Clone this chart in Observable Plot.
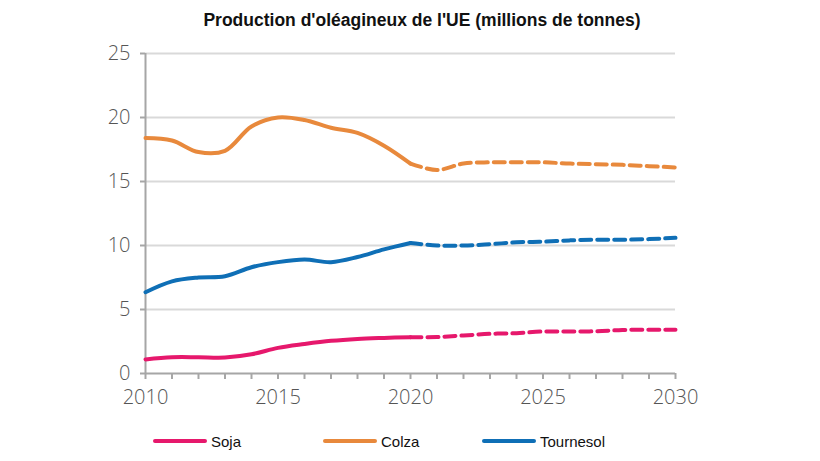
<!DOCTYPE html>
<html>
<head>
<meta charset="utf-8">
<script src="https://cdn.jsdelivr.net/npm/d3@7"></script>
<script src="https://cdn.jsdelivr.net/npm/@observablehq/plot@0.6"></script>
<style>
  html, body { margin: 0; padding: 0; background: #fff; }
  #wrap { position: relative; width: 820px; height: 461px; overflow: hidden; }
  #title { position: absolute; left: 0; top: 10px; width: 844px; text-align: center;
           font-family: "Liberation Sans", Arial, sans-serif; font-weight: bold; font-size: 17.5px; color: #111; }
  #chart { position: absolute; left: 0; top: 40px; }
  #legend { position: absolute; left: 0; top: 430px; width: 820px; height: 24px;
            font-family: "Liberation Sans", Arial, sans-serif; font-size: 15px; color: #111; }
  .item { position: absolute; top: 0; display: flex; align-items: center; height: 22px; }
  .sw { display: inline-block; width: 54px; height: 4px; border-radius: 2px; margin-right: 4px; }
</style>
</head>
<body>
<div id="wrap">
  <div id="title">Production d'oléagineux de l'UE (millions de tonnes)</div>
  <div id="chart"></div>
  <div id="legend"></div>
</div>
<script>
const years = d3.range(2010, 2031);
const soja      = [1.1, 1.27, 1.27, 1.25, 1.5, 2.0, 2.3, 2.55, 2.7, 2.78, 2.84, 2.85, 2.97, 3.1, 3.15, 3.28, 3.28, 3.3, 3.4, 3.42, 3.42];
const colza     = [18.4, 18.2, 17.3, 17.4, 19.3, 20.0, 19.8, 19.2, 18.8, 17.8, 16.4, 15.9, 16.4, 16.5, 16.5, 16.5, 16.4, 16.35, 16.3, 16.2, 16.1];
const tournesol = [6.35, 7.2, 7.5, 7.6, 8.3, 8.7, 8.9, 8.7, 9.1, 9.7, 10.2, 10.0, 10.0, 10.1, 10.25, 10.3, 10.4, 10.45, 10.45, 10.5, 10.6];
const seriesNames = ["Soja", "Colza", "Tournesol"];
const seriesColors = ["#e6186c", "#e8893c", "#0f6fb6"];
const projectionStart = 2020;
const yTicks = [0, 5, 10, 15, 20, 25];
const xLabelTicks = [2010, 2015, 2020, 2025, 2030];

const values = [soja, colza, tournesol];
const rows = [];
seriesNames.forEach((name, i) => {
  years.forEach((yr, j) => rows.push({series: name, year: yr, value: values[i][j]}));
});
const hist = rows.filter(d => d.year <= projectionStart);
const proj = rows.filter(d => d.year >= projectionStart);

const gridColor = "#d9d9d9";
const axisColor = "#a6a6a6";

const plot = Plot.plot({
  width: 820,
  height: 380,
  marginTop: 13,
  marginBottom: 47,
  marginLeft: 145,
  marginRight: 145,
  style: {fontFamily: "'Open Sans', 'DejaVu Sans', sans-serif", fontSize: "20px", fontWeight: 300, color: "#555", background: "#fff"},
  x: {domain: [2010, 2030]},
  y: {domain: [0, 25]},
  color: {domain: seriesNames, range: seriesColors},
  marks: [
    Plot.ruleY(yTicks.filter(v => v > 0), {stroke: gridColor, strokeWidth: 2}),
    Plot.ruleX([2010], {stroke: axisColor, strokeWidth: 2}),
    Plot.ruleY([0], {stroke: axisColor, strokeWidth: 2}),
    Plot.axisY({ticks: yTicks, tickSize: 5, tickPadding: 10, stroke: axisColor, strokeWidth: 2, label: null, fill: "#555"}),
    Plot.axisX({ticks: years, tickSize: 6, tickFormat: () => "", stroke: axisColor, strokeWidth: 2, label: null}),
    Plot.axisX({ticks: xLabelTicks, tickSize: 0, tickPadding: 16, tickFormat: d => String(d), label: null, fill: "#555"}),
    Plot.line(hist, {x: "year", y: "value", z: "series", stroke: "series", strokeWidth: 4, curve: "catmull-rom", strokeLinecap: "round"}),
    Plot.line(proj, {x: "year", y: "value", z: "series", stroke: "series", strokeWidth: 4, curve: "catmull-rom", strokeDasharray: "11,6", strokeLinecap: "round"})
  ]
});
document.getElementById("chart").appendChild(plot);

const legend = document.getElementById("legend");
const legendX = [153, 323, 482];
seriesNames.forEach((name, i) => {
  const item = document.createElement("div");
  item.className = "item";
  item.style.left = legendX[i] + "px";
  const sw = document.createElement("span");
  sw.className = "sw";
  sw.style.background = seriesColors[i];
  const lab = document.createElement("span");
  lab.textContent = name;
  item.appendChild(sw);
  item.appendChild(lab);
  legend.appendChild(item);
});
</script>
</body>
</html>
